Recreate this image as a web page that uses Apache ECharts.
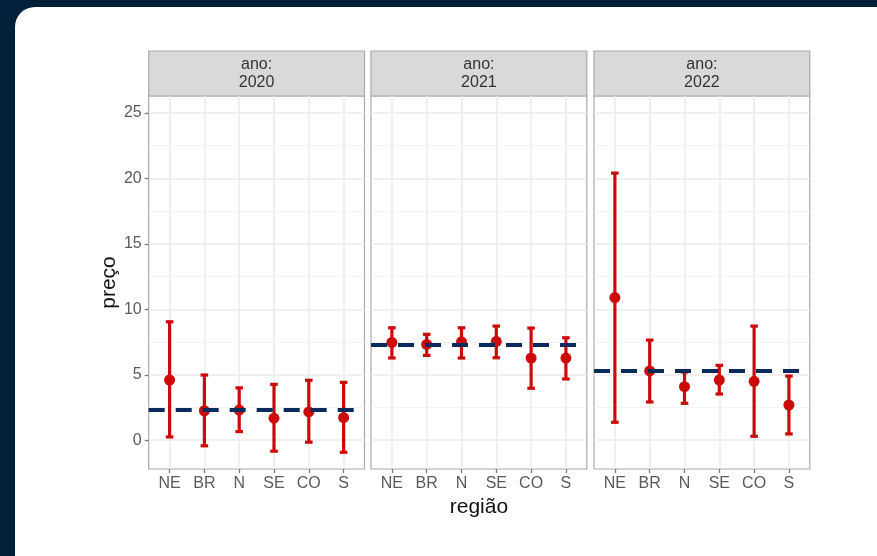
<!DOCTYPE html>
<html>
<head>
<meta charset="utf-8">
<script src="https://cdn.jsdelivr.net/npm/echarts@6/dist/echarts.min.js"></script>
<style>
  html, body { margin: 0; padding: 0; background: #03203b; }
  #chart { width: 877px; height: 556px; }
</style>
</head>
<body>
<div id="chart"></div>
<script>
// Regiões no eixo x (mesma ordem em todos os painéis)
const regioes = ['NE', 'BR', 'N', 'SE', 'CO', 'S'];
const anos = ['2020', '2021', '2022'];

// Preço médio por região e ano
const media2020 = [4.6, 2.25, 2.3, 1.68, 2.16, 1.72];
const media2021 = [7.47, 7.32, 7.52, 7.55, 6.28, 6.28];
const media2022 = [10.9, 5.29, 4.09, 4.6, 4.5, 2.69];

// Limites inferior e superior dos intervalos
const inf2020 = [0.25, -0.43, 0.66, -0.84, -0.15, -0.92];
const sup2020 = [9.05, 4.98, 4.0, 4.27, 4.58, 4.42];
const inf2021 = [6.28, 6.48, 6.28, 6.3, 3.97, 4.68];
const sup2021 = [8.59, 8.09, 8.59, 8.72, 8.57, 7.83];
const inf2022 = [1.37, 2.92, 2.82, 3.53, 0.3, 0.48];
const sup2022 = [20.41, 7.65, 5.21, 5.72, 8.72, 4.9];

// Preço de referência (linha tracejada) de cada ano
const referencia = [2.3, 7.29, 5.34];

// Marcas do eixo y
const ticksY = [0, 5, 10, 15, 20, 25];
const ticksYMenores = [2.5, 7.5, 12.5, 17.5, 22.5];

const medias = [media2020, media2021, media2022];
const inferiores = [inf2020, inf2021, inf2022];
const superiores = [sup2020, sup2021, sup2022];

const VERMELHO = '#cc0a0a';
const AZUL = '#0b2a5c';
const FONTE = '"Liberation Sans", Arial, sans-serif';

const painelEsq = [148.7, 371, 594];
const painelLarg = 215.8;
const painelTopo = 96;
const painelBase = 469;
const faixaTopo = 51;
const yMin = -2.2, yMax = 26.3;

const chart = echarts.init(document.getElementById('chart'), null, { renderer: 'canvas' });

const grids = [], xAxes = [], yAxes = [], series = [], graficos = [];

// Cartão branco de fundo
graficos.push({
  type: 'rect', z: -10, silent: true,
  shape: { x: 15, y: 7, width: 900, height: 600, r: 20 },
  style: { fill: '#ffffff' }
});

anos.forEach((ano, k) => {
  grids.push({
    left: painelEsq[k], width: painelLarg, top: painelTopo,
    height: painelBase - painelTopo,
    show: true, backgroundColor: '#ffffff', borderColor: '#a9a9a9', borderWidth: 1.2
  });

  xAxes.push({
    type: 'value', gridIndex: k, min: -0.6, max: 5.6, position: 'bottom',
    axisLine: { show: false, onZero: false },
    axisTick: { show: true, inside: false, length: 4, lineStyle: { color: '#777777', width: 1.3 },
                customValues: regioes.map((_, i) => i) },
    axisLabel: { show: true, customValues: regioes.map((_, i) => i), margin: 7,
                 formatter: v => regioes[Math.round(v)] || '',
                 color: '#5a5a5a', fontSize: 16, fontFamily: FONTE },
    splitLine: { show: true, lineStyle: { color: '#ebebeb', width: 1.5 } },
    name: k === 1 ? 'região' : '', nameLocation: 'middle', nameGap: 26,
    nameTextStyle: { color: '#111', fontSize: 21, fontFamily: FONTE }
  });

  // Eixo principal: rótulos, marcas e grade maior
  yAxes.push({
    type: 'value', gridIndex: k, min: yMin, max: yMax, position: 'left',
    axisLine: { show: false, onZero: false },
    axisTick: { show: k === 0, inside: false, length: 4, lineStyle: { color: '#777777', width: 1.3 },
                customValues: ticksY },
    axisLabel: { show: k === 0, customValues: ticksY, margin: 7,
                 color: '#5a5a5a', fontSize: 16, fontFamily: FONTE },
    splitLine: { show: true, lineStyle: { color: '#ebebeb', width: 1.5 } },
    name: k === 0 ? 'preço' : '', nameLocation: 'middle', nameGap: 29, nameRotate: 90,
    nameTextStyle: { color: '#111', fontSize: 21, fontFamily: FONTE }
  });
  // Eixo auxiliar só para a grade menor
  yAxes.push({
    type: 'value', gridIndex: k, min: yMin, max: yMax, position: 'left',
    axisLine: { show: false, onZero: false },
    axisTick: { show: false, customValues: ticksYMenores },
    axisLabel: { show: false },
    splitLine: { show: true, lineStyle: { color: '#f3f3f3', width: 1 } }
  });

  // Linha tracejada de referência
  series.push({
    type: 'line', xAxisIndex: k, yAxisIndex: 2 * k, data: [], z: 2,
    markLine: {
      silent: true, symbol: 'none', label: { show: false },
      lineStyle: { color: AZUL, width: 4, type: [16, 11], opacity: 1 },
      emphasis: { disabled: true },
      data: [{ yAxis: referencia[k] }]
    }
  });

  // Barras de erro
  series.push({
    type: 'custom', xAxisIndex: k, yAxisIndex: 2 * k, z: 3,
    data: regioes.map((_, i) => [i, inferiores[k][i], superiores[k][i]]),
    encode: { x: 0, y: [1, 2] },
    renderItem: (params, api) => {
      const x = api.value(0);
      const a = api.coord([x, api.value(1)]);
      const b = api.coord([x, api.value(2)]);
      const c = 3.8;
      const st = { stroke: VERMELHO, lineWidth: 3.2 };
      return {
        type: 'group', children: [
          { type: 'line', shape: { x1: a[0], y1: a[1], x2: b[0], y2: b[1] }, style: st },
          { type: 'line', shape: { x1: a[0] - c, y1: a[1], x2: a[0] + c, y2: a[1] }, style: st },
          { type: 'line', shape: { x1: b[0] - c, y1: b[1], x2: b[0] + c, y2: b[1] }, style: st }
        ]
      };
    }
  });

  // Pontos das médias
  series.push({
    type: 'scatter', xAxisIndex: k, yAxisIndex: 2 * k, z: 4,
    symbol: 'circle', symbolSize: 11,
    itemStyle: { color: VERMELHO, opacity: 1 },
    data: regioes.map((_, i) => [i, medias[k][i]])
  });

  // Faixa de título do painel
  graficos.push({
    type: 'group', silent: true,
    children: [
      { type: 'rect', shape: { x: painelEsq[k], y: faixaTopo, width: painelLarg, height: painelTopo - faixaTopo },
        style: { fill: '#d9d9d9', stroke: '#a9a9a9', lineWidth: 1.2 } },
      { type: 'text', x: painelEsq[k] + painelLarg / 2, y: (faixaTopo + painelTopo) / 2,
        style: { text: 'ano:\n' + ano, align: 'center', verticalAlign: 'middle',
                 fill: '#333333', fontSize: 16, fontFamily: FONTE, lineHeight: 18 } }
    ]
  });
});

chart.setOption({
  backgroundColor: '#03203b',
  animation: false,
  grid: grids,
  xAxis: xAxes,
  yAxis: yAxes,
  series: series,
  graphic: graficos
});
</script>
</body>
</html>
